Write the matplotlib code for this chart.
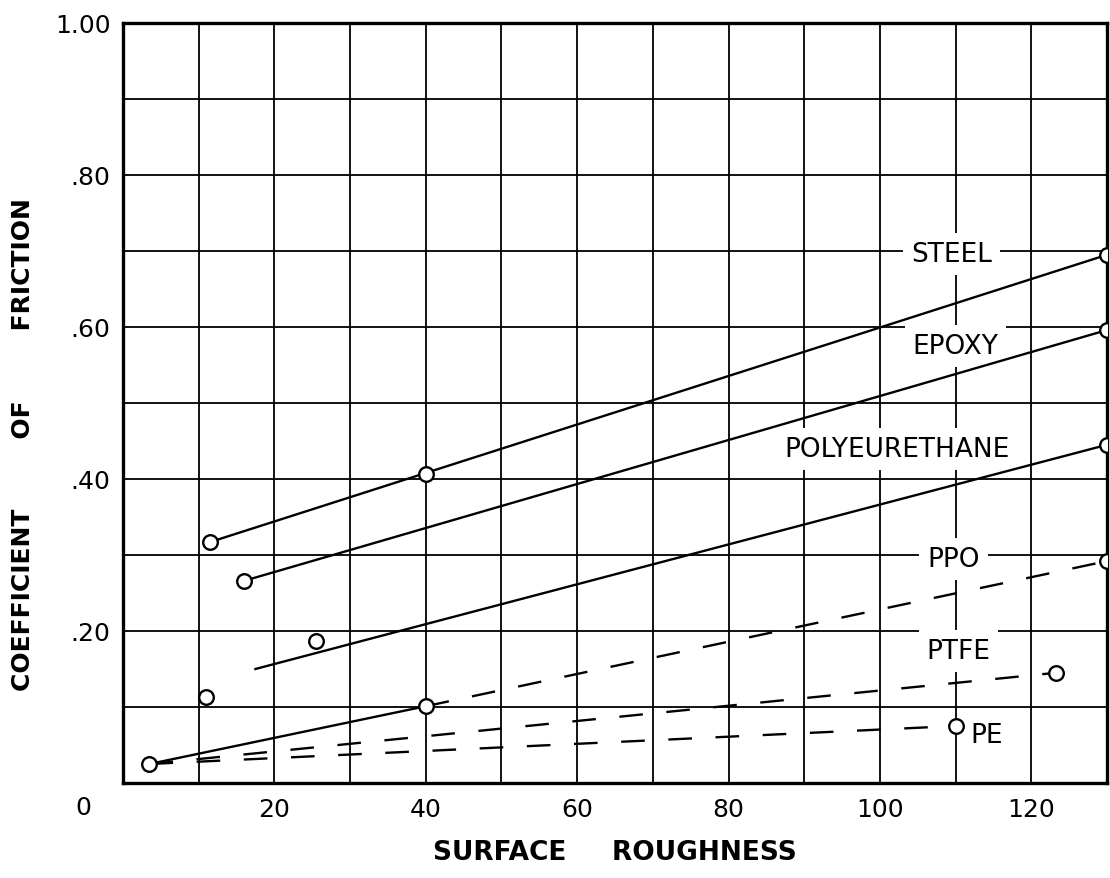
import matplotlib
matplotlib.use('Agg')
import matplotlib.pyplot as plt
from matplotlib.transforms import blended_transform_factory

plt.rcParams['font.family'] = ['DejaVu Sans']
plt.rcParams['lines.scale_dashes'] = False

# measured points (surface roughness vs. coefficient of friction)
steel_x = [11.5, 40, 130]
steel_y = [0.317, 0.406, 0.695]

epoxy_x = [16, 130]
epoxy_y = [0.266, 0.596]

poly_x = [25.5, 130]
poly_y = [0.187, 0.445]
poly_line_x = [17.5, 130]
poly_line_y = [0.150, 0.445]

ppo_x = [3.5, 40, 130]
ppo_y = [0.025, 0.101, 0.292]

ptfe_x = [11, 123.3]
ptfe_y = [0.113, 0.145]
ptfe_line_x = [3.5, 123.3]
ptfe_line_y = [0.025, 0.145]

pe_x = [110]
pe_y = [0.075]
pe_line_x = [3.5, 110]
pe_line_y = [0.025, 0.075]

materials = ['STEEL', 'EPOXY', 'POLYEURETHANE', 'PPO', 'PTFE', 'PE']

x_ticks = list(range(0, 131, 10))
x_labels = ['', '', '20', '', '40', '', '60', '', '80', '', '100', '', '120', '']
y_ticks = [i / 10 for i in range(11)]
y_labels = ['', '', '.20', '', '.40', '', '.60', '', '.80', '', '1.00']

fig = plt.figure(figsize=(11.1, 8.79), dpi=100)
ax = fig.add_axes([0.1108, 0.1081, 0.8865, 0.8646])

ax.set_xlim(0, 130)
ax.set_ylim(0, 1.0)
ax.set_xticks(x_ticks)
ax.set_xticklabels(x_labels)
ax.set_yticks(y_ticks)
ax.set_yticklabels(y_labels)
ax.tick_params(axis='both', length=0, labelsize=18)
ax.tick_params(axis='x', pad=10)
ax.tick_params(axis='y', pad=9)

ax.grid(True, color='black', lw=1.3)
ax.set_axisbelow(True)
for s in ax.spines.values():
    s.set_linewidth(2.4)

# "0" sits off to the left of the corner
trans = blended_transform_factory(ax.transData, ax.transAxes)
ax.text(-5.3, -0.0316, '0', transform=trans, ha='center', va='center',
        fontsize=18, clip_on=False)

line_kw = dict(color='black', lw=1.7)
dash_kw = dict(color='black', lw=1.7, dashes=(17, 17))
mark_kw = dict(ls='none', marker='o', ms=10.5, mfc='white', mec='black',
               mew=1.7, zorder=5)

# fitted lines
ax.plot([steel_x[0], steel_x[-1]], [steel_y[0], steel_y[-1]], **line_kw, zorder=3)
ax.plot(epoxy_x, epoxy_y, **line_kw, zorder=3)
ax.plot(poly_line_x, poly_line_y, **line_kw, zorder=3)
ax.plot(ppo_x[:2], ppo_y[:2], **line_kw, zorder=3)
ax.plot(ppo_x[1:], ppo_y[1:], **dash_kw, zorder=3)
ax.plot(ptfe_line_x, ptfe_line_y, **dash_kw, zorder=3)
ax.plot(pe_line_x, pe_line_y, **dash_kw, zorder=3)

# data points
for xs, ys in [(steel_x, steel_y), (epoxy_x, epoxy_y), (poly_x, poly_y),
               (ppo_x, ppo_y), (ptfe_x, ptfe_y), (pe_x, pe_y)]:
    ax.plot(xs, ys, **mark_kw)

# material names, white box breaks the grid behind them
label_pos = [(109.5, 0.696), (110.0, 0.575), (102.3, 0.440),
             (109.7, 0.295), (110.4, 0.174), (114.1, 0.063)]
for name, (lx, ly) in zip(materials, label_pos):
    ax.text(lx, ly, name, ha='center', va='center', fontsize=19, zorder=2,
            bbox=dict(boxstyle='square,pad=0.3', fc='white', ec='none'))

ax.set_xlabel('SURFACE     ROUGHNESS', fontsize=19, fontweight='bold')
ax.xaxis.set_label_coords(0.5, -0.074)
ax.set_ylabel('COEFFICIENT        OF        FRICTION', fontsize=18, fontweight='bold')
ax.yaxis.set_label_coords(-0.089, 0.446)

fig.savefig('out.png', dpi=100)
